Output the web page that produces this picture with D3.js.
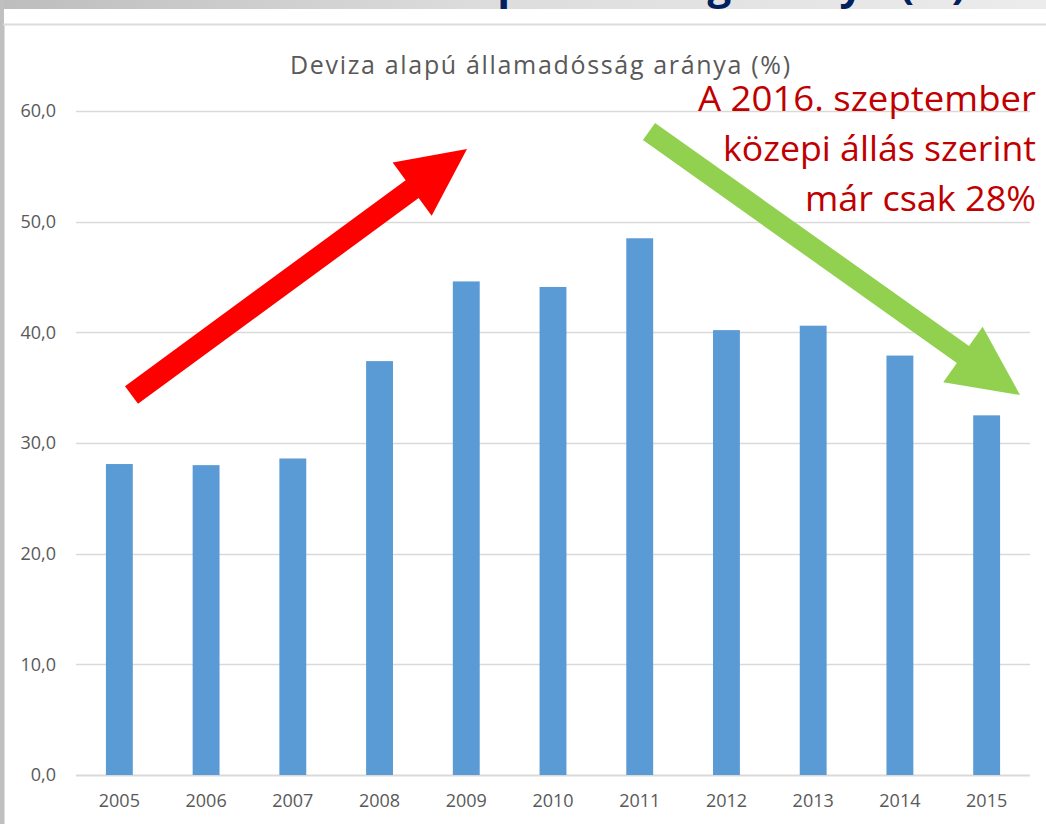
<!DOCTYPE html>
<html>
<head>
<meta charset="utf-8">
<script src="https://cdn.jsdelivr.net/npm/d3@7"></script>
<style>
  body { margin: 0; background: #fff; }
  svg { display: block; }
</style>
</head>
<body>
<div id="chart"></div>
<script>
// data
const years = ["2005", "2006", "2007", "2008", "2009", "2010", "2011", "2012", "2013", "2014", "2015"];
const share = [28.1, 28.0, 28.6, 37.4, 44.6, 44.1, 48.5, 40.2, 40.6, 37.9, 32.5];
const yTicks = [0, 10, 20, 30, 40, 50, 60];
const chartTitle = "Deviza alapú államadósság aránya (%)";
const slideTitle = "A deviza alapú adósság aránya (%)";
const note = ["A 2016. szeptember", "közepi állás szerint", "már csak 28%"];
const noteWidth = [338, 313, 231];

const W = 1046, H = 824;
const font = "'Open Sans', sans-serif";
const textColor = "#595959";

const svg = d3.select("#chart").append("svg")
    .attr("width", W)
    .attr("height", H);

// slide background: gray header band + left strip
const grad = svg.append("defs").append("linearGradient")
    .attr("id", "band")
    .attr("x1", 0).attr("x2", 1).attr("y1", 0).attr("y2", 0);
grad.append("stop").attr("offset", 0).attr("stop-color", "#bdbdbd");
grad.append("stop").attr("offset", 0.45).attr("stop-color", "#dcdcdc");
grad.append("stop").attr("offset", 1).attr("stop-color", "#ececec");

svg.append("rect").attr("x", 0).attr("y", 0).attr("width", W).attr("height", 9).attr("fill", "url(#band)");
svg.append("rect").attr("x", 0).attr("y", 0).attr("width", 4).attr("height", H).attr("fill", "#c0c0c0");

// slide title runs off the top edge, only descenders show
svg.append("text")
    .attr("x", 966)
    .attr("y", -1)
    .attr("text-anchor", "end")
    .attr("font-family", font)
    .attr("font-weight", "bold")
    .attr("font-size", 42)
    .attr("fill", "#002060")
    .text(slideTitle);

// chart frame
svg.append("line")
    .attr("x1", 3).attr("x2", W)
    .attr("y1", 24.5).attr("y2", 24.5)
    .attr("stroke", "#dcdcdc").attr("stroke-width", 2);
svg.append("line")
    .attr("x1", 4.5).attr("x2", 4.5)
    .attr("y1", 24).attr("y2", H)
    .attr("stroke", "#dcdcdc").attr("stroke-width", 1);

// scales
const x = d3.scaleBand()
    .domain(years)
    .range([76, 1030])
    .paddingInner(0.69)
    .paddingOuter(0.345);

const y = d3.scaleLinear()
    .domain([0, 60])
    .range([775, 111]);

// gridlines
svg.append("g")
    .attr("class", "grid")
    .selectAll("line")
    .data(yTicks)
    .enter().append("line")
    .attr("x1", 76)
    .attr("x2", 1030)
    .attr("y1", d => Math.round(y(d)) + 0.5)
    .attr("y2", d => Math.round(y(d)) + 0.5)
    .attr("stroke", "#d9d9d9")
    .attr("stroke-width", d => d === 0 ? 2 : 1.3);

// y axis labels
const axisY = d3.axisLeft(y)
    .tickValues(yTicks)
    .tickSize(0)
    .tickPadding(0)
    .tickFormat(d => d3.format(".1f")(d).replace(".", ","));

svg.append("g")
    .attr("class", "axis_y")
    .attr("transform", "translate(56,0)")
    .call(axisY)
    .call(g => g.select(".domain").remove())
    .selectAll("text")
    .attr("font-family", font)
    .attr("font-size", 18)
    .attr("fill", textColor);

// x axis labels
const axisX = d3.axisBottom(x)
    .tickSize(0)
    .tickPadding(0);

svg.append("g")
    .attr("class", "axis_x")
    .attr("transform", "translate(0,794)")
    .call(axisX)
    .call(g => g.select(".domain").remove())
    .selectAll("text")
    .attr("font-family", font)
    .attr("font-size", 18)
    .attr("fill", textColor);

// bars
svg.append("g")
    .attr("class", "bars")
    .selectAll("rect")
    .data(years)
    .enter().append("rect")
    .attr("x", d => x(d))
    .attr("width", x.bandwidth())
    .attr("y", (d, i) => y(share[i]))
    .attr("height", (d, i) => y(0) - y(share[i]))
    .attr("fill", "#5b9bd5");

// chart title
svg.append("text")
    .attr("x", 540)
    .attr("y", 74)
    .attr("text-anchor", "middle")
    .attr("font-family", font)
    .attr("font-size", 25)
    .attr("textLength", 500)
    .attr("lengthAdjust", "spacing")
    .attr("fill", textColor)
    .text(chartTitle);

// block arrows
function blockArrow(x0, y0, x1, y1, shaft, headW, headL, color) {
    const dx = x1 - x0, dy = y1 - y0;
    const len = Math.hypot(dx, dy);
    const ux = dx / len, uy = dy / len;
    const nx = -uy, ny = ux;
    const bx = x1 - ux * headL, by = y1 - uy * headL;
    const pts = [
        [x0 + nx * shaft / 2, y0 + ny * shaft / 2],
        [bx + nx * shaft / 2, by + ny * shaft / 2],
        [bx + nx * headW / 2, by + ny * headW / 2],
        [x1, y1],
        [bx - nx * headW / 2, by - ny * headW / 2],
        [bx - nx * shaft / 2, by - ny * shaft / 2],
        [x0 - nx * shaft / 2, y0 - ny * shaft / 2]
    ];
    svg.append("path")
        .attr("d", d3.line()(pts) + "Z")
        .attr("fill", color);
}

blockArrow(131.5, 395, 467, 149, 22, 66, 68, "#ff0000");
blockArrow(649, 131.5, 1020, 395, 21, 68, 70, "#92d050");

// red annotation
const noteG = svg.append("g")
    .attr("font-family", font)
    .attr("font-size", 35)
    .attr("fill", "#c00000")
    .attr("text-anchor", "end");

noteG.selectAll("text")
    .data(note)
    .enter().append("text")
    .attr("x", 1036)
    .attr("y", (d, i) => 111 + i * 50)
    .attr("textLength", (d, i) => noteWidth[i])
    .attr("lengthAdjust", "spacingAndGlyphs")
    .text(d => d);
</script>
</body>
</html>
